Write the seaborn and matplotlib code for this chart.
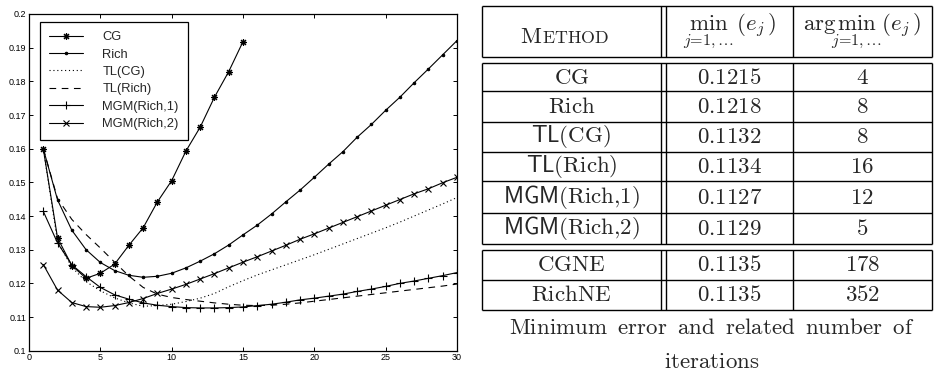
import matplotlib
matplotlib.use("Agg")
import matplotlib.pyplot as plt
import seaborn as sns

# ---------------- data ----------------
iters_cg = list(range(1, 16))
err_cg = [0.1600, 0.1335, 0.1253, 0.1215, 0.1230, 0.1257, 0.1313, 0.1365, 0.1442,
          0.1505, 0.1593, 0.1664, 0.1753, 0.1829, 0.1918]
iters = list(range(1, 31))
err_rich = [0.1600, 0.1448, 0.1358, 0.1300, 0.1262, 0.1238, 0.1224, 0.1218, 0.1221, 0.1230,
            0.1246, 0.1266, 0.1288, 0.1314, 0.1344, 0.1373, 0.1406, 0.1442, 0.1477, 0.1515,
            0.1554, 0.1591, 0.1634, 0.1672, 0.1714, 0.1753, 0.1796, 0.1837, 0.1879, 0.1921]
err_tl_cg = [0.1600, 0.1325, 0.1248, 0.1205, 0.1178, 0.1157, 0.1142, 0.1132, 0.1134, 0.1138,
             0.1146, 0.1156, 0.1170, 0.1190, 0.1208, 0.1225, 0.1240, 0.1255, 0.1270, 0.1285,
             0.1301, 0.1317, 0.1333, 0.1349, 0.1365, 0.1382, 0.1400, 0.1418, 0.1436, 0.1455]
err_tl_rich = [0.1600, 0.1452, 0.1390, 0.1345, 0.1305, 0.1263, 0.1222, 0.1188, 0.1168, 0.1158,
               0.1152, 0.1147, 0.1142, 0.1138, 0.1135, 0.1134, 0.1135, 0.1138, 0.1142, 0.1147,
               0.1152, 0.1157, 0.1162, 0.1167, 0.1172, 0.1177, 0.1182, 0.1187, 0.1192, 0.1198]
err_mgm1 = [0.1414, 0.1320, 0.1255, 0.1220, 0.1188, 0.1166, 0.1153, 0.1142, 0.1135, 0.1131,
            0.1128, 0.1127, 0.1127, 0.1128, 0.1130, 0.1134, 0.1138, 0.1144, 0.1151, 0.1156,
            0.1162, 0.1168, 0.1176, 0.1183, 0.1191, 0.1200, 0.1207, 0.1215, 0.1223, 0.1232]
err_mgm2 = [0.1256, 0.1180, 0.1143, 0.1131, 0.1129, 0.1134, 0.1143, 0.1155, 0.1170, 0.1183,
            0.1197, 0.1213, 0.1229, 0.1246, 0.1263, 0.1279, 0.1296, 0.1313, 0.1331, 0.1347,
            0.1364, 0.1381, 0.1398, 0.1415, 0.1432, 0.1449, 0.1466, 0.1481, 0.1499, 0.1515]

x_ticks = [0, 5, 10, 15, 20, 25, 30]
y_ticks = [0.10, 0.11, 0.12, 0.13, 0.14, 0.15, 0.16, 0.17, 0.18, 0.19, 0.20]
y_tick_labels = ["0.1", "0.11", "0.12", "0.13", "0.14", "0.15", "0.16", "0.17", "0.18", "0.19", "0.2"]

# table data
tbl_methods = [r"$\mathrm{CG}$", r"$\mathrm{Rich}$", r"$\mathsf{TL}\mathrm{(CG)}$",
               r"$\mathsf{TL}\mathrm{(Rich)}$", r"$\mathsf{MGM}\mathrm{(Rich{,}1)}$",
               r"$\mathsf{MGM}\mathrm{(Rich{,}2)}$", r"$\mathrm{CGNE}$", r"$\mathrm{RichNE}$"]
tbl_min = ["0.1215", "0.1218", "0.1132", "0.1134", "0.1127", "0.1129", "0.1135", "0.1135"]
tbl_argmin = ["4", "8", "8", "16", "12", "5", "178", "352"]
caption_lines = ["Minimum error and related number of", "iterations"]

# ---------------- style ----------------
sns.set_style("ticks")
plt.rcParams["font.family"] = ["Liberation Sans", "DejaVu Sans"]
plt.rcParams["mathtext.fontset"] = "cm"

W, H = 935, 371
fig = plt.figure(figsize=(W / 100, H / 100), dpi=100)

# ---------------- line chart ----------------
x0, x1, yb, yt = 29, 457, 350.7, 14
ax = fig.add_axes([x0 / W, 1 - yb / H, (x1 - x0) / W, (yb - yt) / H])

lw = 0.8
series = [
    (iters_cg, err_cg, "CG", dict(marker=(8, 2, 0), markersize=5, linestyle="-")),
    (iters, err_rich, "Rich", dict(marker=".", markersize=3.5, linestyle="-")),
    (iters, err_tl_cg, "TL(CG)", dict(marker=None, linestyle=(0, (1, 2.5)))),
    (iters, err_tl_rich, "TL(Rich)", dict(marker=None, linestyle=(0, (6, 5)))),
    (iters, err_mgm1, "MGM(Rich,1)", dict(marker="+", markersize=6, linestyle="-")),
    (iters, err_mgm2, "MGM(Rich,2)", dict(marker="x", markersize=4, linestyle="-")),
]
for xs, ys, lab, kw in series:
    sns.lineplot(x=xs, y=ys, ax=ax, color="black", linewidth=lw, label=lab,
                 markeredgecolor="black", markerfacecolor="black", markeredgewidth=0.8,
                 errorbar=None, **kw)

ax.set_xlim(0, 30)
ax.set_ylim(0.1, 0.2)
ax.set_xticks(x_ticks)
ax.set_xticklabels([str(v) for v in x_ticks])
ax.set_yticks(y_ticks)
ax.set_yticklabels(y_tick_labels)
ax.tick_params(direction="in", top=True, right=True, length=3, width=0.7,
               labelsize=6.5, pad=2, colors="black")
for s in ax.spines.values():
    s.set_linewidth(0.9)
    s.set_color("black")
ax.set_xlabel("")
ax.set_ylabel("")

leg = ax.legend(loc="upper left", bbox_to_anchor=(0.0257, 0.977), borderaxespad=0,
                fontsize=9.3, handlelength=2.6, handletextpad=1.5, labelspacing=0.42,
                borderpad=0.72, frameon=True, fancybox=False, edgecolor="black",
                framealpha=1)
leg.get_frame().set_linewidth(0.9)

# ---------------- table ----------------
tax = fig.add_axes([0, 0, 1, 1])
tax.set_xlim(0, W)
tax.set_ylim(H, 0)
tax.axis("off")

L, V1a, V1b, V2, R = 482, 660.7, 666, 792.7, 932
tlw = 1.0
boxes = [(5.7, 56.7, []), (62.7, 244, [91.3, 121.7, 151.7, 181, 213]), (250, 310, [279.7])]
for top, bot, inner in boxes:
    for yy in [top, bot] + inner:
        tax.plot([L, R], [yy, yy], color="black", lw=tlw, solid_capstyle="butt")
    for xx in [L, V1a, V1b, V2, R]:
        tax.plot([xx, xx], [top, bot], color="black", lw=tlw, solid_capstyle="butt")

c1, c2, c3 = (L + V1a) / 2, (V1b + V2) / 2, (V2 + R) / 2
fs = 16.5
# header
tax.text(542.5, 43.3, r"$\mathrm{M}$", fontsize=fs, ha="right", va="baseline")
tax.text(542.5, 43.3, r"$\mathrm{ETHOD}$", fontsize=fs * 0.78, ha="left", va="baseline")
tax.text(c2, 31, r"$\min_{j=1,\ldots}\,(e_j)$", fontsize=fs, ha="center", va="center")
tax.text(c3, 31, r"$\mathrm{arg}\!\min_{j=1,\ldots}(e_j)$", fontsize=fs, ha="center", va="center")

row_centers = [77, 106.5, 136.7, 166.3, 197, 228.5, 264.8, 294.8]
for yc, m, v, a in zip(row_centers, tbl_methods, tbl_min, tbl_argmin):
    tax.text(c1, yc, m, fontsize=fs, ha="center", va="center")
    tax.text(c2, yc, r"$\mathrm{" + v + "}$", fontsize=fs, ha="center", va="center")
    tax.text(c3, yc, r"$\mathrm{" + a + "}$", fontsize=fs, ha="center", va="center")

cap_y = [328, 361]
for yy, line in zip(cap_y, caption_lines):
    tax.text(712, yy, "$\\mathrm{" + line.replace(" ", "\\ \\:") + "}$", fontsize=fs,
             ha="center", va="center")

fig.savefig("out.png", dpi=100)
